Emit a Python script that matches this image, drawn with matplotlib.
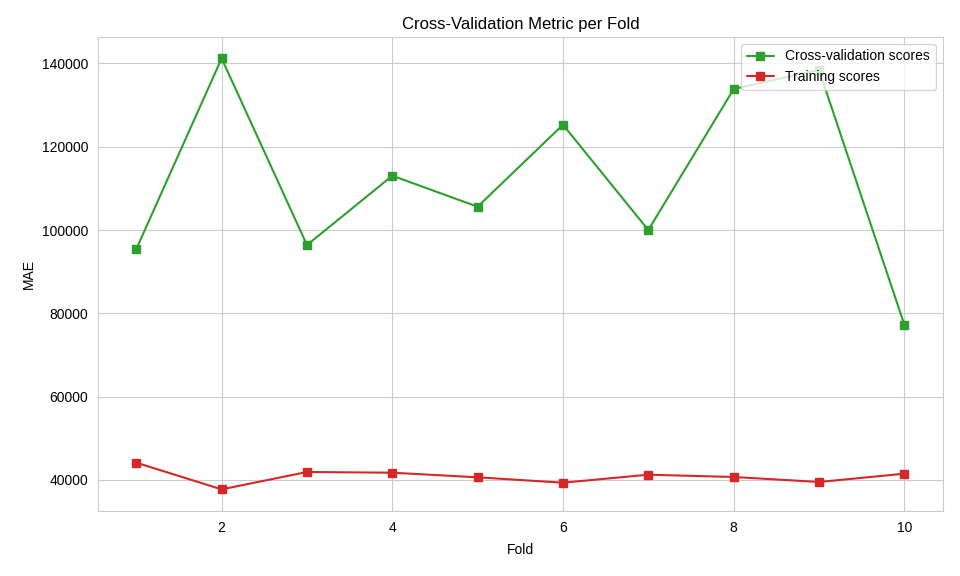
import numpy as np
import matplotlib
matplotlib.use("Agg")
import matplotlib.pyplot as plt
import seaborn as sns

sns.set_style("whitegrid")
plt.rcParams['font.family'] = ['Liberation Sans', 'DejaVu Sans']
plt.rcParams['text.color'] = 'black'
plt.rcParams['axes.labelcolor'] = 'black'
plt.rcParams['xtick.color'] = 'black'
plt.rcParams['ytick.color'] = 'black'

folds = [1, 2, 3, 4, 5, 6, 7, 8, 9, 10]
cv_scores = [95440, 141200, 96400, 113040, 105600, 125280, 100000, 133830, 138470, 77290]
train_scores = [44150, 37750, 41920, 41750, 40640, 39350, 41270, 40720, 39520, 41510]

fig, ax = plt.subplots(figsize=(9.6, 5.76), dpi=100)
ax.plot(folds, cv_scores, marker="s", color="tab:green", label="Cross-validation scores")
ax.plot(folds, train_scores, marker="s", color="tab:red", label="Training scores")
ax.set_title("Cross-Validation Metric per Fold")
ax.set_xlabel("Fold", labelpad=6)
ax.set_ylabel("MAE")
ax.legend(loc="upper right")
fig.subplots_adjust(left=0.102, right=0.982, top=0.936, bottom=0.113)
plt.savefig("out.png")
